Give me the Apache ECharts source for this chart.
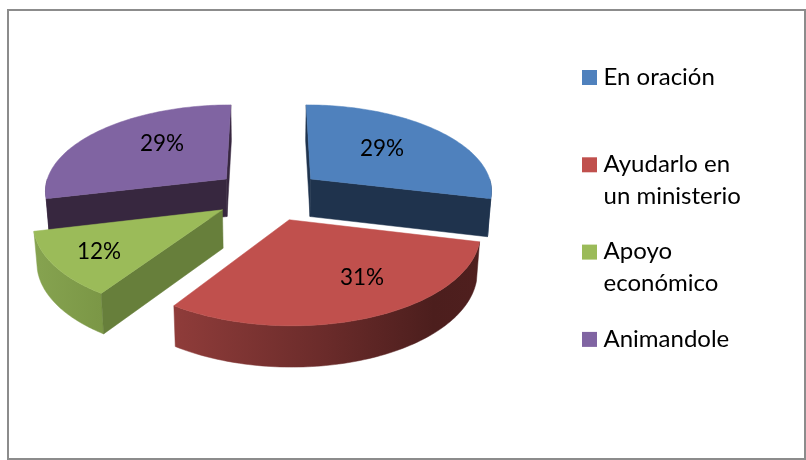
<!DOCTYPE html>
<html>
<head>
<meta charset="utf-8">
<style>
    html, body { margin: 0; padding: 0; background: #fff; }
    #chart { width: 806px; height: 460px; }
</style>
<script src="https://cdn.jsdelivr.net/npm/echarts@6/dist/echarts.min.js"></script>
</head>
<body>
<div id="chart"></div>
<script>
// data
var categories = ['En oración', 'Ayudarlo en\nun ministerio', 'Apoyo\neconómico', 'Animandole'];
var values = [29, 31, 12, 29];

// colours per slice
var topColors = ['#4f81bd', '#c0504d', '#9bbb59', '#8064a2'];
var cutColors = ['#1f334d', '#4f1f1e', '#677f3b', '#37273f'];
var rimStops = [
    [[0, '#2a4568'], [1, '#1f334d']],
    [[0, '#8f3c3a'], [0.5, '#6a2b2a'], [0.85, '#4c1e1d'], [1, '#4f1f1e']],
    [[0, '#86a350'], [1, '#7b9746']],
    [[0, '#4a3560'], [1, '#37273f']]
];

// layout of the tilted pie
var cx = 268.5, cy = 194.7;
var radiusX = 183, radiusZ = 86.6, persp = 0.121;
var explode = 0.3, depth = 38, bottomScale = 0.985;
var labelPos = [[382, 149], [362, 278], [99, 252], [162, 144]];

var total = values.reduce(function (a, b) { return a + b; }, 0);

function project(x, z, low) {
    var s = 1 / (1 - persp * z);
    var px = radiusX * x * s;
    var py = radiusZ * z * s;
    if (low) {
        return [cx + px * bottomScale, cy + py + depth * Math.sqrt(s)];
    }
    return [cx + px, cy + py];
}

function sliceInfo(index) {
    var before = 0;
    for (var i = 0; i < index; i++) {
        before += values[i];
    }
    var a0 = before / total * 2 * Math.PI;
    var a1 = (before + values[index]) / total * 2 * Math.PI;
    var mid = (a0 + a1) / 2;
    return { a0: a0, a1: a1, ox: explode * Math.sin(mid), oz: -explode * Math.cos(mid) };
}

function edgePoint(info, a, low) {
    return project(info.ox + Math.sin(a), info.oz - Math.cos(a), low);
}

function polygon(points, fill, z2) {
    return {
        type: 'polygon',
        z2: z2,
        shape: { points: points },
        style: { fill: fill, stroke: fill, lineWidth: 0.5 }
    };
}

function renderSlice(params, api) {
    var idx = params.dataIndex;
    var info = sliceInfo(idx);
    var base = Math.round(info.oz * 100) * 10;
    var steps = 90;
    var topPts = [project(info.ox, info.oz, false)];
    var i, a;
    for (i = 0; i <= steps; i++) {
        a = info.a0 + (info.a1 - info.a0) * i / steps;
        topPts.push(edgePoint(info, a, false));
    }
    var children = [];

    // rim, only the part turned to the viewer
    var from = Math.max(info.a0, Math.PI / 2), to = Math.min(info.a1, Math.PI * 1.5);
    if (to > from) {
        var upper = [], lower = [];
        for (i = 0; i <= steps; i++) {
            a = from + (to - from) * i / steps;
            upper.push(edgePoint(info, a, false));
            lower.unshift(edgePoint(info, a, true));
        }
        var xs = upper.map(function (p) { return p[0]; });
        var left = Math.min.apply(null, xs), right = Math.max.apply(null, xs);
        var colorStops = rimStops[idx].map(function (s) { return { offset: s[0], color: s[1] }; });
        var grad = new echarts.graphic.LinearGradient(left, 0, right, 0, colorStops, true);
        children.push(polygon(upper.concat(lower), grad, base + 1));
    }

    // cut faces, skipped when turned away from the viewer
    [[info.a0, -1], [info.a1, 1]].forEach(function (cut) {
        var A = project(info.ox, info.oz, false);
        var B = edgePoint(info, cut[0], false);
        var C = edgePoint(info, cut[0], true);
        var D = project(info.ox, info.oz, true);
        var pts = [A, B, C, D];
        var area = 0;
        for (var k = 0; k < 4; k++) {
            var n = pts[(k + 1) % 4];
            area += pts[k][0] * n[1] - n[0] * pts[k][1];
        }
        if (area * cut[1] > 0) {
            children.push(polygon(pts, cutColors[idx], base + 2));
        }
    });

    children.push(polygon(topPts, topColors[idx], base + 3));
    children.push({
        type: 'text',
        z2: 5000,
        style: {
            x: labelPos[idx][0],
            y: labelPos[idx][1],
            text: api.value(0) + '%',
            fill: '#000',
            font: '22.5px Lato',
            align: 'center',
            verticalAlign: 'middle'
        }
    });
    return { type: 'group', children: children };
}

// legend drawn from the categories, its rows are not evenly tall
var legendGraphics = [];
categories.forEach(function (name, i) {
    var y = 70 + i * 87.3;
    legendGraphics.push({
        type: 'rect',
        shape: { x: 582, y: y, width: 15, height: 15 },
        style: { fill: topColors[i] }
    });
    legendGraphics.push({
        type: 'text',
        style: {
            x: 603.5,
            y: y - 9,
            text: name,
            fill: '#000',
            font: '24px Lato',
            lineHeight: 32
        }
    });
});

var chart = echarts.init(document.getElementById('chart'));
chart.setOption({
    animation: false,
    backgroundColor: '#fff',
    series: [{
        type: 'custom',
        coordinateSystem: 'none',
        silent: true,
        renderItem: renderSlice,
        data: values.map(function (v) { return [v]; })
    }],
    graphic: {
        elements: [{
            type: 'rect',
            shape: { x: 8, y: 10, width: 797, height: 449 },
            style: { fill: 'none', stroke: '#8c8c8c', lineWidth: 2 }
        }].concat(legendGraphics)
    }
});
window.addEventListener('resize', function () { chart.resize(); });
</script>
</body>
</html>
